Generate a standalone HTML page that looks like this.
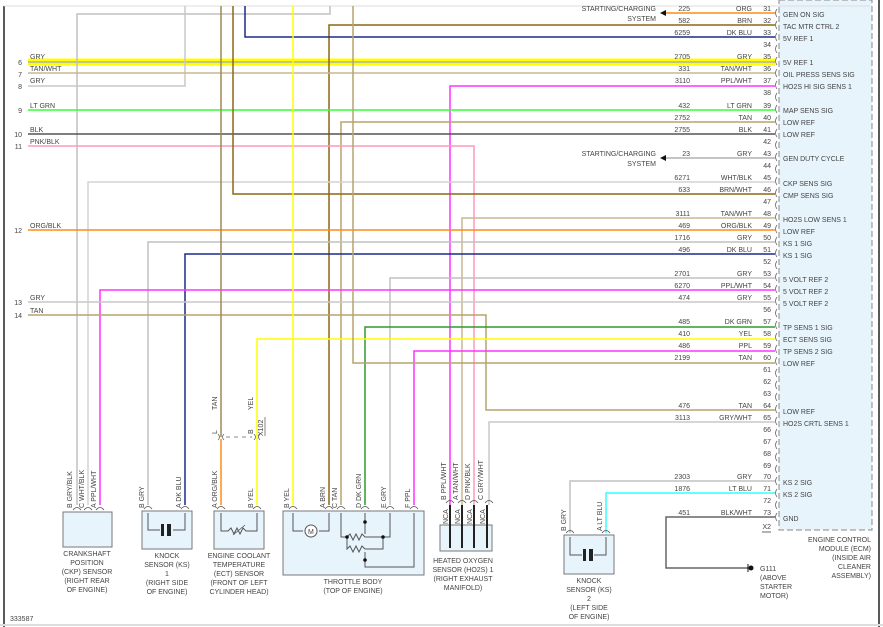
<!DOCTYPE html>
<html><head><meta charset="utf-8"><style>
html,body{margin:0;padding:0;background:#fff;}
svg{display:block;font-family:"Liberation Sans",sans-serif;}
text{fill:#444;font-size:7px;}
</style></head><body>
<svg width="883" height="627" viewBox="0 0 883 627" xmlns="http://www.w3.org/2000/svg">
<rect width="883" height="627" fill="#fff"/>
<!-- ECM box -->
<rect x="779" y="0" width="93" height="530" fill="#e8f4fc" stroke="#888" stroke-dasharray="6,3"/>
<line x1="879" y1="0" x2="879" y2="627" stroke="#222" stroke-width="1.5"/>
<line x1="4" y1="6" x2="4" y2="627" stroke="#222" stroke-width="1.5"/>
<line x1="4" y1="6" x2="870" y2="6" stroke="#ddd" stroke-width="1"/>
<line x1="0" y1="625" x2="883" y2="625" stroke="#ddd" stroke-width="2"/>

<g fill="none" stroke-width="1.5">
<line x1="28" y1="62" x2="775" y2="62" stroke="#ffff00" stroke-width="7"/>
<line x1="28" y1="62" x2="775" y2="62" stroke="#b0b0b0" stroke-width="1.5"/>
<polyline points="77,505 77,14 330,14 330,6" stroke="#c0c0c0"/>
<polyline points="28,86 185,86 185,6" stroke="#c8c8c8"/>
<line x1="666" y1="13" x2="775" y2="13" stroke="#ff8c1a"/>
<polyline points="775,25 329,25 329,505" stroke="#8b6914"/>
<polyline points="775,37 245,37 245,6" stroke="#1a2a8a"/>
<line x1="28" y1="73" x2="775" y2="73" stroke="#c8b890"/>
<polyline points="775,86 450,86 450,505" stroke="#ff33ff"/>
<line x1="28" y1="110" x2="775" y2="110" stroke="#33ff33"/>
<polyline points="775,122 341,122 341,505" stroke="#b5a36e"/>
<line x1="28" y1="134" x2="775" y2="134" stroke="#555"/>
<polyline points="28,146 474,146 474,505" stroke="#ff99bb"/>
<line x1="666" y1="158" x2="775" y2="158" stroke="#b0b0b0"/>
<polyline points="775,182 88,182 88,505" stroke="#d4d4d4"/>
<polyline points="775,194 233,194 233,6" stroke="#8b6914"/>
<polyline points="775,218 462,218 462,505" stroke="#c8b890"/>
<line x1="28" y1="230" x2="775" y2="230" stroke="#ff8c1a"/>
<polyline points="775,242 148,242 148,505" stroke="#c0c0c0"/>
<polyline points="775,254 185,254 185,505" stroke="#1a2a8a"/>
<polyline points="775,278 390,278 390,505" stroke="#c0c0c0"/>
<polyline points="775,290 100,290 100,505" stroke="#ff33ff"/>
<line x1="28" y1="302" x2="775" y2="302" stroke="#c8c8c8"/>
<polyline points="28,315 486,315 486,410 775,410" stroke="#b5a36e"/>
<polyline points="775,327 365,327 365,505" stroke="#2e9a2e"/>
<polyline points="775,339 257,339 257,505" stroke="#ffff00"/>
<polyline points="775,351 414,351 414,505" stroke="#ff33ff"/>
<polyline points="775,363 353,363 353,6" stroke="#b5a36e"/>
<polyline points="775,422 489,422 489,505" stroke="#c8c8c8"/>
<line x1="221" y1="6" x2="221" y2="437" stroke="#a08850"/>
<line x1="221" y1="439" x2="221" y2="505" stroke="#ff8c1a"/>
<line x1="293" y1="6" x2="293" y2="505" stroke="#ffff00"/>
<polyline points="775,481 570,481 570,533" stroke="#c0c0c0"/>
<polyline points="775,493 606,493 606,533" stroke="#33ffff"/>
<polyline points="775,517 666,517 666,568 748,568" stroke="#666"/>
</g>
<polygon points="660,13 666,10 666,16" fill="#111"/>
<polygon points="660,158 666,155 666,161" fill="#111"/>
<line x1="748" y1="564" x2="748" y2="572" stroke="#111" stroke-width="1"/>
<circle cx="751" cy="568" r="2.5" fill="#111"/>
<text x="656" y="11" text-anchor="end">STARTING/CHARGING</text>
<text x="656" y="21" text-anchor="end">SYSTEM</text>
<text x="656" y="156" text-anchor="end">STARTING/CHARGING</text>
<text x="656" y="166" text-anchor="end">SYSTEM</text>

<g>
<text x="22" y="65" text-anchor="end">6</text><text x="30" y="59">GRY</text>
<text x="22" y="77" text-anchor="end">7</text><text x="30" y="71">TAN/WHT</text>
<text x="22" y="89" text-anchor="end">8</text><text x="30" y="83">GRY</text>
<text x="22" y="113" text-anchor="end">9</text><text x="30" y="108">LT GRN</text>
<text x="22" y="137" text-anchor="end">10</text><text x="30" y="132">BLK</text>
<text x="22" y="149" text-anchor="end">11</text><text x="30" y="144">PNK/BLK</text>
<text x="22" y="233" text-anchor="end">12</text><text x="30" y="228">ORG/BLK</text>
<text x="22" y="305" text-anchor="end">13</text><text x="30" y="300">GRY</text>
<text x="22" y="318" text-anchor="end">14</text><text x="30" y="313">TAN</text>
</g>

<g>
<text x="690" y="11" text-anchor="end">225</text><text x="752" y="11" text-anchor="end">ORG</text><text x="771" y="11" text-anchor="end">31</text><text x="783" y="17">GEN ON SIG</text>
<text x="690" y="23" text-anchor="end">582</text><text x="752" y="23" text-anchor="end">BRN</text><text x="771" y="23" text-anchor="end">32</text><text x="783" y="29">TAC MTR CTRL 2</text>
<text x="690" y="35" text-anchor="end">6259</text><text x="752" y="35" text-anchor="end">DK BLU</text><text x="771" y="35" text-anchor="end">33</text><text x="783" y="41">5V REF 1</text>
<text x="771" y="47" text-anchor="end">34</text>
<text x="690" y="59" text-anchor="end">2705</text><text x="752" y="59" text-anchor="end">GRY</text><text x="771" y="59" text-anchor="end">35</text><text x="783" y="65">5V REF 1</text>
<text x="690" y="71" text-anchor="end">331</text><text x="752" y="71" text-anchor="end">TAN/WHT</text><text x="771" y="71" text-anchor="end">36</text><text x="783" y="77">OIL PRESS SENS SIG</text>
<text x="690" y="83" text-anchor="end">3110</text><text x="752" y="83" text-anchor="end">PPL/WHT</text><text x="771" y="83" text-anchor="end">37</text><text x="783" y="89">HO2S HI SIG SENS 1</text>
<text x="771" y="95" text-anchor="end">38</text>
<text x="690" y="108" text-anchor="end">432</text><text x="752" y="108" text-anchor="end">LT GRN</text><text x="771" y="108" text-anchor="end">39</text><text x="783" y="113">MAP SENS SIG</text>
<text x="690" y="120" text-anchor="end">2752</text><text x="752" y="120" text-anchor="end">TAN</text><text x="771" y="120" text-anchor="end">40</text><text x="783" y="125">LOW REF</text>
<text x="690" y="132" text-anchor="end">2755</text><text x="752" y="132" text-anchor="end">BLK</text><text x="771" y="132" text-anchor="end">41</text><text x="783" y="137">LOW REF</text>
<text x="771" y="144" text-anchor="end">42</text>
<text x="690" y="156" text-anchor="end">23</text><text x="752" y="156" text-anchor="end">GRY</text><text x="771" y="156" text-anchor="end">43</text><text x="783" y="161">GEN DUTY CYCLE</text>
<text x="771" y="168" text-anchor="end">44</text>
<text x="690" y="180" text-anchor="end">6271</text><text x="752" y="180" text-anchor="end">WHT/BLK</text><text x="771" y="180" text-anchor="end">45</text><text x="783" y="186">CKP SENS SIG</text>
<text x="690" y="192" text-anchor="end">633</text><text x="752" y="192" text-anchor="end">BRN/WHT</text><text x="771" y="192" text-anchor="end">46</text><text x="783" y="198">CMP SENS SIG</text>
<text x="771" y="204" text-anchor="end">47</text>
<text x="690" y="216" text-anchor="end">3111</text><text x="752" y="216" text-anchor="end">TAN/WHT</text><text x="771" y="216" text-anchor="end">48</text><text x="783" y="222">HO2S LOW SENS 1</text>
<text x="690" y="228" text-anchor="end">469</text><text x="752" y="228" text-anchor="end">ORG/BLK</text><text x="771" y="228" text-anchor="end">49</text><text x="783" y="234">LOW REF</text>
<text x="690" y="240" text-anchor="end">1716</text><text x="752" y="240" text-anchor="end">GRY</text><text x="771" y="240" text-anchor="end">50</text><text x="783" y="246">KS 1 SIG</text>
<text x="690" y="252" text-anchor="end">496</text><text x="752" y="252" text-anchor="end">DK BLU</text><text x="771" y="252" text-anchor="end">51</text><text x="783" y="258">KS 1 SIG</text>
<text x="771" y="264" text-anchor="end">52</text>
<text x="690" y="276" text-anchor="end">2701</text><text x="752" y="276" text-anchor="end">GRY</text><text x="771" y="276" text-anchor="end">53</text><text x="783" y="282">5 VOLT REF 2</text>
<text x="690" y="288" text-anchor="end">6270</text><text x="752" y="288" text-anchor="end">PPL/WHT</text><text x="771" y="288" text-anchor="end">54</text><text x="783" y="294">5 VOLT REF 2</text>
<text x="690" y="300" text-anchor="end">474</text><text x="752" y="300" text-anchor="end">GRY</text><text x="771" y="300" text-anchor="end">55</text><text x="783" y="306">5 VOLT REF 2</text>
<text x="771" y="312" text-anchor="end">56</text>
<text x="690" y="324" text-anchor="end">485</text><text x="752" y="324" text-anchor="end">DK GRN</text><text x="771" y="324" text-anchor="end">57</text><text x="783" y="330">TP SENS 1 SIG</text>
<text x="690" y="336" text-anchor="end">410</text><text x="752" y="336" text-anchor="end">YEL</text><text x="771" y="336" text-anchor="end">58</text><text x="783" y="342">ECT SENS SIG</text>
<text x="690" y="348" text-anchor="end">486</text><text x="752" y="348" text-anchor="end">PPL</text><text x="771" y="348" text-anchor="end">59</text><text x="783" y="354">TP SENS 2 SIG</text>
<text x="690" y="360" text-anchor="end">2199</text><text x="752" y="360" text-anchor="end">TAN</text><text x="771" y="360" text-anchor="end">60</text><text x="783" y="366">LOW REF</text>
<text x="771" y="372" text-anchor="end">61</text>
<text x="771" y="384" text-anchor="end">62</text>
<text x="771" y="396" text-anchor="end">63</text>
<text x="690" y="408" text-anchor="end">476</text><text x="752" y="408" text-anchor="end">TAN</text><text x="771" y="408" text-anchor="end">64</text><text x="783" y="414">LOW REF</text>
<text x="690" y="420" text-anchor="end">3113</text><text x="752" y="420" text-anchor="end">GRY/WHT</text><text x="771" y="420" text-anchor="end">65</text><text x="783" y="426">HO2S CRTL SENS 1</text>
<text x="771" y="432" text-anchor="end">66</text>
<text x="771" y="444" text-anchor="end">67</text>
<text x="771" y="456" text-anchor="end">68</text>
<text x="771" y="468" text-anchor="end">69</text>
<text x="690" y="479" text-anchor="end">2303</text><text x="752" y="479" text-anchor="end">GRY</text><text x="771" y="479" text-anchor="end">70</text><text x="783" y="485">KS 2 SIG</text>
<text x="690" y="491" text-anchor="end">1876</text><text x="752" y="491" text-anchor="end">LT BLU</text><text x="771" y="491" text-anchor="end">71</text><text x="783" y="497">KS 2 SIG</text>
<text x="771" y="503" text-anchor="end">72</text>
<text x="690" y="515" text-anchor="end">451</text><text x="752" y="515" text-anchor="end">BLK/WHT</text><text x="771" y="515" text-anchor="end">73</text><text x="783" y="521">GND</text>
<text x="771" y="529" text-anchor="end">X2</text>
<line x1="762" y1="532" x2="771" y2="532" stroke="#444" stroke-width="0.8"/>
</g>
<g fill="none" stroke="#666" stroke-width="0.8">
<path d="M777,9 q-3,4 0,8 M777,21 q-3,4 0,8 M777,33 q-3,4 0,8 M777,45 q-3,4 0,8 M777,57 q-3,4 0,8 M777,69 q-3,4 0,8 M777,81 q-3,4 0,8 M777,93 q-3,4 0,8 M777,105 q-3,4 0,8 M777,117 q-3,4 0,8 M777,129 q-3,4 0,8 M777,141 q-3,4 0,8 M777,153 q-3,4 0,8 M777,165 q-3,4 0,8 M777,177 q-3,4 0,8 M777,189 q-3,4 0,8 M777,201 q-3,4 0,8 M777,213 q-3,4 0,8 M777,225 q-3,4 0,8 M777,237 q-3,4 0,8 M777,249 q-3,4 0,8 M777,261 q-3,4 0,8 M777,273 q-3,4 0,8 M777,285 q-3,4 0,8 M777,297 q-3,4 0,8 M777,309 q-3,4 0,8 M777,321 q-3,4 0,8 M777,333 q-3,4 0,8 M777,345 q-3,4 0,8 M777,357 q-3,4 0,8 M777,369 q-3,4 0,8 M777,381 q-3,4 0,8 M777,393 q-3,4 0,8 M777,405 q-3,4 0,8 M777,417 q-3,4 0,8 M777,429 q-3,4 0,8 M777,441 q-3,4 0,8 M777,453 q-3,4 0,8 M777,465 q-3,4 0,8 M777,477 q-3,4 0,8 M777,489 q-3,4 0,8 M777,501 q-3,4 0,8 M777,513 q-3,4 0,8"/>
</g>

<g fill="none" stroke="#666" stroke-width="0.8">
<path d="M218,434 q3,3 0,6 M224,434 q-3,3 0,6 M254,434 q3,3 0,6 M260,434 q-3,3 0,6"/>
<line x1="226" y1="437" x2="252" y2="437" stroke-dasharray="4,4"/>
<line x1="265" y1="417" x2="265" y2="436"/>
</g>
<text transform="translate(217,410) rotate(-90)">TAN</text>
<text transform="translate(253,410) rotate(-90)">YEL</text>
<text transform="translate(217,434) rotate(-90)">L</text>
<text transform="translate(253,434) rotate(-90)">B</text>
<text transform="translate(263,436) rotate(-90)">X102</text>

<g fill="#e8f4fc" stroke="#777" stroke-width="1">
<rect x="63" y="512" width="49" height="35"/>
<rect x="142" y="511" width="50" height="38"/>
<rect x="214" y="511" width="50" height="38"/>
<rect x="283" y="511" width="141" height="64"/>
<rect x="440" y="525" width="52" height="26"/>
<rect x="564" y="535" width="50" height="39"/>
</g>
<g fill="none" stroke="#555" stroke-width="0.8">
<path d="M73,510 q4,-5 8,0 M84,510 q4,-5 8,0 M96,510 q4,-5 8,0 M144,509 q4,-5 8,0 M181,509 q4,-5 8,0 M217,509 q4,-5 8,0 M253,509 q4,-5 8,0 M289,509 q4,-5 8,0 M325,509 q4,-5 8,0 M337,509 q4,-5 8,0 M361,509 q4,-5 8,0 M386,509 q4,-5 8,0 M410,509 q4,-5 8,0 M446,503 q4,-5 8,0 M458,503 q4,-5 8,0 M470,503 q4,-5 8,0 M485,503 q4,-5 8,0 M566,533 q4,-5 8,0 M602,533 q4,-5 8,0"/>
</g>
<g fill="none" stroke-width="1.5">
<polyline points="148,513 148,530 160,530" stroke="#555" stroke-width="1"/>
<polyline points="185,513 185,530 173,530" stroke="#555" stroke-width="1"/>
<polyline points="570,537 570,555 582,555" stroke="#555" stroke-width="1"/>
<polyline points="606,537 606,555 594,555" stroke="#555" stroke-width="1"/>
<polyline points="221,513 221,531 228,531 231,528 234,534 237,528 240,534 243,528 246,531 257,531 257,513" stroke="#555" stroke-width="1"/>
<line x1="233" y1="535" x2="245" y2="525" stroke="#555" stroke-width="0.8"/>
<polyline points="293,513 293,531 303,531" stroke="#555" stroke-width="1"/>
<polyline points="329,513 329,531 319,531" stroke="#555" stroke-width="1"/>
<polyline points="341,513 341,537 347,537 350,534 353,540 356,534 359,540 362,534 365,537 390,537 390,513" stroke="#555" stroke-width="1"/>
<polyline points="347,537 347,549 350,546 353,552 356,546 359,552 362,546 365,549 383,549 383,537" stroke="#555" stroke-width="1"/>
<line x1="365" y1="513" x2="365" y2="534" stroke="#555" stroke-width="1"/>
<polyline points="365,552 365,567 414,567 414,513" stroke="#555" stroke-width="1"/>
<g stroke="#222" stroke-width="2">
<line x1="450" y1="505" x2="450" y2="548"/><line x1="462" y1="505" x2="462" y2="548"/><line x1="474" y1="505" x2="474" y2="548"/><line x1="487" y1="505" x2="487" y2="548"/>
</g>
</g>
<circle cx="311" cy="531" r="6" fill="#fff" stroke="#555"/><text x="308" y="534" font-size="8">M</text>
<rect x="161" y="524" width="3" height="12" fill="#222"/><rect x="167" y="524" width="4" height="12" fill="#222"/>
<rect x="583" y="549" width="3" height="12" fill="#222"/><rect x="589" y="549" width="4" height="12" fill="#222"/>
<circle cx="365" cy="522" r="1.8" fill="#111"/><circle cx="365" cy="560" r="1.8" fill="#111"/><circle cx="347" cy="537" r="1.8" fill="#111"/><circle cx="383" cy="537" r="1.8" fill="#111"/>

<g>
<text transform="translate(72,508) rotate(-90)">B  GRY/BLK</text>
<text transform="translate(84,508) rotate(-90)">C  WHT/BLK</text>
<text transform="translate(96,508) rotate(-90)">A  PPL/WHT</text>
<text transform="translate(144,508) rotate(-90)">B   GRY</text>
<text transform="translate(181,508) rotate(-90)">A   DK BLU</text>
<text transform="translate(217,508) rotate(-90)">A  ORG/BLK</text>
<text transform="translate(253,508) rotate(-90)">B   YEL</text>
<text transform="translate(289,508) rotate(-90)">B   YEL</text>
<text transform="translate(325,508) rotate(-90)">A   BRN</text>
<text transform="translate(337,508) rotate(-90)">C   TAN</text>
<text transform="translate(361,508) rotate(-90)">D   DK GRN</text>
<text transform="translate(386,508) rotate(-90)">E   GRY</text>
<text transform="translate(410,508) rotate(-90)">F   PPL</text>
<text transform="translate(446,500) rotate(-90)">B  PPL/WHT</text>
<text transform="translate(458,500) rotate(-90)">A  TAN/WHT</text>
<text transform="translate(470,500) rotate(-90)">D  PNK/BLK</text>
<text transform="translate(483,500) rotate(-90)">C  GRY/WHT</text>
<text transform="translate(448,524) rotate(-90)">NCA</text>
<text transform="translate(460,524) rotate(-90)">NCA</text>
<text transform="translate(472,524) rotate(-90)">NCA</text>
<text transform="translate(485,524) rotate(-90)">NCA</text>
<text transform="translate(566,531) rotate(-90)">B  GRY</text>
<text transform="translate(602,531) rotate(-90)">A  LT BLU</text>
</g>

<g text-anchor="middle">
<text x="87" y="556">CRANKSHAFT</text><text x="87" y="565">POSITION</text><text x="87" y="574">(CKP) SENSOR</text><text x="87" y="583">(RIGHT REAR</text><text x="87" y="592">OF ENGINE)</text>
<text x="167" y="558">KNOCK</text><text x="167" y="567">SENSOR (KS)</text><text x="167" y="576">1</text><text x="167" y="585">(RIGHT SIDE</text><text x="167" y="594">OF ENGINE)</text>
<text x="239" y="558">ENGINE COOLANT</text><text x="239" y="567">TEMPERATURE</text><text x="239" y="576">(ECT) SENSOR</text><text x="239" y="585">(FRONT OF LEFT</text><text x="239" y="594">CYLINDER HEAD)</text>
<text x="353" y="584">THROTTLE BODY</text><text x="353" y="593">(TOP OF ENGINE)</text>
<text x="463" y="563">HEATED OXYGEN</text><text x="463" y="572">SENSOR (HO2S) 1</text><text x="463" y="581">(RIGHT EXHAUST</text><text x="463" y="590">MANIFOLD)</text>
<text x="589" y="583">KNOCK</text><text x="589" y="592">SENSOR (KS)</text><text x="589" y="601">2</text><text x="589" y="610">(LEFT SIDE</text><text x="589" y="619">OF ENGINE)</text>
</g>
<text x="760" y="571">G111</text><text x="760" y="580">(ABOVE</text><text x="760" y="589">STARTER</text><text x="760" y="598">MOTOR)</text>
<g text-anchor="end">
<text x="871" y="542">ENGINE CONTROL</text><text x="871" y="551">MODULE (ECM)</text><text x="871" y="560">(INSIDE AIR</text><text x="871" y="569">CLEANER</text><text x="871" y="578">ASSEMBLY)</text>
</g>
<text x="10" y="621" font-size="6.5">333587</text>
</svg>
</body></html>
